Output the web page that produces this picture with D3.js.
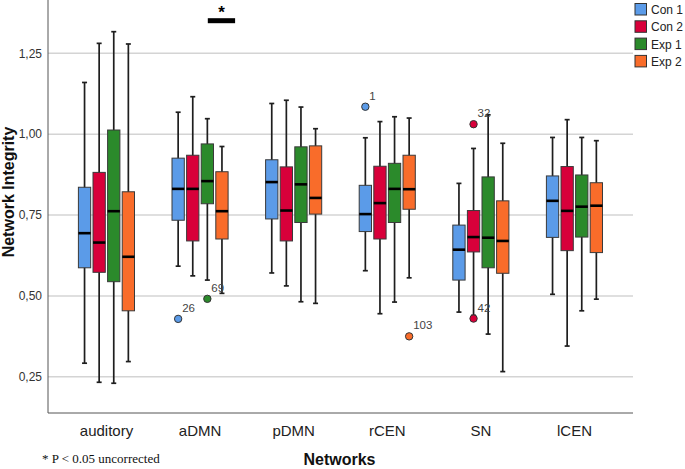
<!DOCTYPE html>
<html>
<head>
<meta charset="utf-8">
<script src="https://cdn.jsdelivr.net/npm/d3@7"></script>
<style>
  html, body { margin: 0; padding: 0; background: #fff; }
  svg { display: block; }
</style>
</head>
<body>
<svg id="chart" width="685" height="469"></svg>
<script>
// ---- data (five-number summaries: [whiskerLow, q1, median, q3, whiskerHigh]) ----
const categories = ["auditory", "aDMN", "pDMN", "rCEN", "SN", "lCEN"];
const seriesNames = ["Con 1", "Con 2", "Exp 1", "Exp 2"];
const seriesColors = ["#5b9be8", "#d8003a", "#2b8a2b", "#f96c2a"];

const con1 = [
  [0.292, 0.587, 0.694, 0.836, 1.160],
  [0.592, 0.734, 0.831, 0.926, 1.068],
  [0.571, 0.738, 0.852, 0.921, 1.095],
  [0.578, 0.699, 0.753, 0.842, 0.989],
  [0.450, 0.549, 0.643, 0.719, 0.848],
  [0.505, 0.681, 0.794, 0.871, 0.990]
];
const con2 = [
  [0.233, 0.573, 0.665, 0.882, 1.281],
  [0.562, 0.670, 0.831, 0.935, 1.116],
  [0.531, 0.670, 0.764, 0.899, 1.105],
  [0.445, 0.676, 0.787, 0.901, 1.039],
  [0.440, 0.636, 0.682, 0.764, 0.956],
  [0.345, 0.640, 0.763, 0.900, 1.045]
];
const exp1 = [
  [0.230, 0.544, 0.762, 1.013, 1.317],
  [0.549, 0.785, 0.855, 0.970, 1.048],
  [0.482, 0.727, 0.845, 0.961, 1.084],
  [0.481, 0.727, 0.831, 0.910, 1.054],
  [0.382, 0.587, 0.680, 0.868, 1.060],
  [0.454, 0.682, 0.776, 0.874, 0.990]
];
const exp2 = [
  [0.297, 0.454, 0.621, 0.822, 1.279],
  [0.508, 0.676, 0.762, 0.884, 0.962],
  [0.477, 0.753, 0.803, 0.964, 1.017],
  [0.556, 0.768, 0.830, 0.935, 1.050],
  [0.266, 0.570, 0.670, 0.794, 0.972],
  [0.490, 0.634, 0.779, 0.850, 0.980]
];
const seriesData = [con1, con2, exp1, exp2];

// outliers: [category, series, value, case label]
const outliers = [
  ["aDMN", "Con 1", 0.429, "26"],
  ["aDMN", "Exp 1", 0.491, "69"],
  ["rCEN", "Con 1", 1.085, "1"],
  ["rCEN", "Exp 2", 0.375, "103"],
  ["SN", "Con 2", 1.031, "32"],
  ["SN", "Con 2", 0.430, "42"]
];

const yTicks = [0.25, 0.50, 0.75, 1.00, 1.25];
const yTickLabels = ["0,25", "0,50", "0,75", "1,00", "1,25"];

// significance annotation over aDMN (Exp 1 vs Exp 2)
const sigCategory = "aDMN";
const sigValue = 1.351;

// ---- layout ----
const svg = d3.select("#chart");
const plot = { left: 48, right: 633, top: 0, bottom: 413 };

const x0 = d3.scaleBand().domain(categories)
  .range([plot.left, plot.right]).paddingOuter(0.125).paddingInner(0);
const x1 = d3.scaleBand().domain(seriesNames)
  .range([-28.1, 28.0]).paddingInner(0.158).paddingOuter(0);
const y = d3.scaleLinear().domain([0.138, 1.415]).range([plot.bottom, plot.top]);
const color = d3.scaleOrdinal().domain(seriesNames).range(seriesColors);

const cx = c => x0(c) + x0.bandwidth() / 2;

// gridlines
svg.append("g").selectAll("line").data(yTicks).join("line")
  .attr("x1", plot.left).attr("x2", plot.right)
  .attr("y1", d => y(d)).attr("y2", d => y(d))
  .attr("stroke", "#d4d4d4").attr("stroke-width", 1.5);

// y tick labels
svg.append("g").selectAll("text").data(yTicks).join("text")
  .attr("x", 42).attr("y", d => y(d)).attr("dy", "0.35em")
  .attr("text-anchor", "end")
  .attr("font-family", "Arial, 'Liberation Sans', sans-serif")
  .attr("font-size", 12).attr("fill", "#333")
  .text((d, i) => yTickLabels[i]);

// axes lines
svg.append("line").attr("x1", plot.left).attr("x2", plot.left)
  .attr("y1", plot.top).attr("y2", plot.bottom)
  .attr("stroke", "#555").attr("stroke-width", 1);
svg.append("line").attr("x1", plot.left).attr("x2", plot.right)
  .attr("y1", plot.bottom).attr("y2", plot.bottom)
  .attr("stroke", "#555").attr("stroke-width", 1);

// boxes
const boxes = [];
seriesData.forEach((arr, si) => {
  arr.forEach((v, ci) => {
    boxes.push({ cat: categories[ci], s: seriesNames[si], v });
  });
});

const bw = x1.bandwidth();
const g = svg.append("g");
const bx = d => cx(d.cat) + x1(d.s);
const mid = d => bx(d) + bw / 2;

// whiskers
g.selectAll(".wl").data(boxes).join("line")
  .attr("x1", mid).attr("x2", mid)
  .attr("y1", d => y(d.v[4])).attr("y2", d => y(d.v[0]))
  .attr("stroke", "#1e1e1e").attr("stroke-width", 1.7);
// caps
g.selectAll(".capH").data(boxes).join("line")
  .attr("x1", d => mid(d) - 2.5).attr("x2", d => mid(d) + 2.5)
  .attr("y1", d => y(d.v[4])).attr("y2", d => y(d.v[4]))
  .attr("stroke", "#1e1e1e").attr("stroke-width", 1.7);
g.selectAll(".capL").data(boxes).join("line")
  .attr("x1", d => mid(d) - 2.5).attr("x2", d => mid(d) + 2.5)
  .attr("y1", d => y(d.v[0])).attr("y2", d => y(d.v[0]))
  .attr("stroke", "#1e1e1e").attr("stroke-width", 1.7);
// box rects
g.selectAll(".box").data(boxes).join("rect")
  .attr("x", bx).attr("width", bw)
  .attr("y", d => y(d.v[3])).attr("height", d => y(d.v[1]) - y(d.v[3]))
  .attr("fill", d => color(d.s))
  .attr("stroke", "#3a3a3a").attr("stroke-width", 1);
// medians
g.selectAll(".med").data(boxes).join("line")
  .attr("x1", bx).attr("x2", d => bx(d) + bw)
  .attr("y1", d => y(d.v[2])).attr("y2", d => y(d.v[2]))
  .attr("stroke", "#000").attr("stroke-width", 2.6);

// outliers
const og = svg.append("g");
og.selectAll("circle").data(outliers).join("circle")
  .attr("cx", d => cx(d[0]) + x1(d[1]) + bw / 2)
  .attr("cy", d => y(d[2]))
  .attr("r", 3.7)
  .attr("fill", d => color(d[1]))
  .attr("stroke", "#333").attr("stroke-width", 1);
og.selectAll("text").data(outliers).join("text")
  .attr("x", d => cx(d[0]) + x1(d[1]) + bw / 2 + 4)
  .attr("y", d => y(d[2]) - 7)
  .attr("font-family", "Arial, 'Liberation Sans', sans-serif")
  .attr("font-size", 11.5).attr("fill", "#444")
  .text(d => d[3]);

// category labels
svg.append("g").selectAll("text").data(categories).join("text")
  .attr("x", d => cx(d)).attr("y", 436)
  .attr("text-anchor", "middle")
  .attr("font-family", "Arial, 'Liberation Sans', sans-serif")
  .attr("font-size", 15).attr("fill", "#222")
  .text(d => d);

// axis titles
svg.append("text")
  .attr("x", (plot.left + plot.right) / 2 - 1).attr("y", 465)
  .attr("text-anchor", "middle")
  .attr("font-family", "Arial, 'Liberation Sans', sans-serif")
  .attr("font-size", 16).attr("font-weight", "bold").attr("fill", "#111")
  .text("Networks");
svg.append("text")
  .attr("transform", "translate(13.5,192) rotate(-90)")
  .attr("text-anchor", "middle")
  .attr("font-family", "Arial, 'Liberation Sans', sans-serif")
  .attr("font-size", 16).attr("font-weight", "bold").attr("fill", "#111")
  .text("Network Integrity");

// footnote
svg.append("text")
  .attr("x", 42).attr("y", 463)
  .attr("font-family", "'Liberation Serif', 'Times New Roman', serif")
  .attr("font-size", 13).attr("fill", "#111")
  .text("* P < 0.05 uncorrected");

// significance bar
const sx = cx(sigCategory);
svg.append("rect")
  .attr("x", sx + 7.7).attr("width", 27.3)
  .attr("y", y(sigValue) - 2.5).attr("height", 5)
  .attr("fill", "#000");
svg.append("text")
  .attr("x", sx + 21.5).attr("y", y(sigValue) - 3)
  .attr("text-anchor", "middle")
  .attr("font-family", "Arial, 'Liberation Sans', sans-serif")
  .attr("font-size", 17).attr("font-weight", "bold").attr("fill", "#000")
  .text("*");

// legend
const lg = svg.append("g").attr("transform", "translate(635,3.5)");
const li = lg.selectAll("g").data(seriesNames).join("g")
  .attr("transform", (d, i) => `translate(0,${i * 17.3})`);
li.append("rect").attr("width", 11.5).attr("height", 11.5)
  .attr("fill", d => color(d)).attr("stroke", "#333").attr("stroke-width", 1);
li.append("text").attr("x", 16).attr("y", 10.5)
  .attr("font-family", "Arial, 'Liberation Sans', sans-serif")
  .attr("font-size", 12).attr("fill", "#222")
  .text(d => d);
</script>
</body>
</html>
